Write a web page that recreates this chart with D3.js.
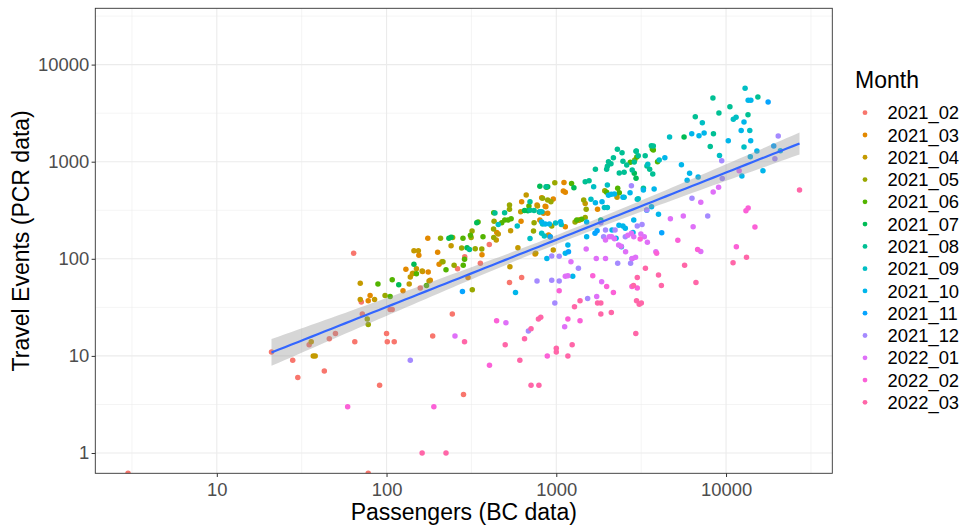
<!DOCTYPE html>
<html><head><meta charset="utf-8">
<script src="https://cdn.jsdelivr.net/npm/d3@7"></script>
<style>
body{margin:0;background:#fff;}
svg{display:block;}
text{font-family:"Liberation Sans",Arial,Helvetica,sans-serif;}
</style>
</head><body>
<svg id="chart" width="962" height="529"></svg>
<script>
// ---- data: [Passengers (BC data), Travel Events (PCR data)] per month ----
const months = ["2021_02","2021_03","2021_04","2021_05","2021_06","2021_07","2021_08","2021_09","2021_10","2021_11","2021_12","2022_01","2022_02","2022_03"];
const monthColors = ["#F8766D","#E38900","#C49A00","#99A800","#53B400","#00BC56","#00C094","#00BFC4","#00B6EB","#06A4FF","#A58AFF","#DF70F8","#FB61D7","#FF66A8"];

const pts_2021_02 = [[3,0],[21,11],[28,9],[30,6],[35,13],[43,7],[46,15],[50,17],[64,114],[65,14],[71,36],[72,27],[78,0],[91,5],[100,17],[101,14],[111,14],[105,30],[108,30],[158,50],[187,16],[244,27],[262,79],[284,4],[289,105],[357,90],[403,140],[530,57],[625,64]];
const pts_2021_03 = [[78,37],[80,42],[125,47],[130,78],[142,70],[155,109],[163,74],[176,73],[175,163],[181,60],[200,117],[204,88],[302,64],[365,110],[446,187],[620,243],[625,387],[750,112],[770,358],[800,251],[820,426],[840,294],[860,348],[868,344],[890,294],[900,176],[960,413],[1100,500],[1110,610],[1130,485],[1130,214],[1370,251],[1750,323]];
const pts_2021_04 = [[36,14],[37,10],[38,10],[70,56],[70,38],[85,38],[136,55],[138,65],[143,71],[145,121],[150,79],[154,121],[162,75],[178,59],[212,93],[240,136],[443,156],[455,180],[533,83],[538,195],[594,130],[617,305],[665,454],[757,114],[775,350],[920,169],[960,123],[1350,250],[1480,372],[2280,430]];
const pts_2021_05 = [[77,24],[78,21],[98,42],[208,163],[215,93],[245,166],[250,86],[277,129],[315,166],[319,193],[320,48],[333,127],[364,126],[427,203],[428,166],[430,243],[530,358],[530,323],[734,193],[740,235],[830,420],[890,403],[930,387],[940,218],[980,608],[1290,240],[1450,403],[1480,267],[1500,323],[1930,502],[2900,1040]];
const pts_2021_06 = [[89,55],[105,41],[108,61],[150,70],[172,53],[224,77],[282,163],[283,86],[288,99],[312,175],[346,239],[370,169],[428,298],[477,235],[497,251],[520,251],[542,259],[690,350],[875,545],[1230,598],[1320,251],[1410,255],[1980,484],[2300,532],[2350,480],[2730,985],[2980,1120],[3680,1350],[3730,1320],[3950,1000]];
const pts_2021_07 = [[118,54],[145,88],[233,163],[240,167],[298,130],[340,235],[650,314],[680,312],[795,303],[800,560],[890,553],[1270,540],[2880,760],[2950,675],[5660,1800]];
const pts_2021_08 = [[308,125],[435,297],[496,298],[700,387],[700,316],[740,314],[870,553],[1480,622],[1560,637],[1700,835],[1830,251],[1980,835],[2000,900],[2030,1000],[2100,950],[2170,1100],[2290,1340],[2350,765],[2440,1240],[2470,1010],[2510,778],[2600,925],[2800,820],[2880,993],[2950,1280],[2960,1290],[3040,1150],[3260,532],[3340,1150],[3420,903],[3550,835],[3630,1460],[3700,747],[3730,1450],[6590,2900],[8070,1430],[8370,4530],[8430,1940],[9080,3170],[10540,3690],[13470,3050],[15400,4640]];
const pts_2021_09 = [[455,226],[589,218],[700,162],[800,305],[820,183],[822,305],[830,228],[850,172],[990,234],[1070,226],[1600,410],[1660,553],[1920,337],[2000,337],[2000,576],[2510,430],[3000,410],[3040,416],[3460,940],[4040,1040],[4650,1800],[7250,2520],[9150,1160],[11040,2730],[11460,2870],[12760,1420],[12950,5700],[13800,2100]];
const pts_2021_10 = [[575,45],[820,240],[860,228],[880,101],[910,228],[1060,241],[1130,114],[1170,139],[1250,66],[1510,239],[1510,169],[1700,378],[1860,387],[2030,451],[2110,461],[2130,198],[2200,465],[2250,163],[2340,221],[2420,133],[2470,218],[2470,430],[2550,206],[2720,480],[2830,187],[2860,251],[3260,511],[3410,316],[3640,344],[3770,524],[4000,287],[4360,1100],[5460,931],[5900,643],[6100,760],[6280,1940],[6850,695],[6930,1850],[7430,1980],[10310,1640],[12280,2100],[12400,712],[12760,2560],[13500,4300],[13900,1127],[13970,1640],[14000,4300],[15200,1290],[16500,808],[20900,1300]];
const pts_2021_11 = [[280,46],[920,169],[1180,118],[1690,183],[1740,195],[4180,185],[17700,4120],[19100,1450]];
const pts_2021_12 = [[138,9],[685,18],[770,59],[940,60],[940,107],[980,35],[1040,59],[1040,106],[1350,80],[1530,39],[1830,235],[1900,169],[1950,198],[2220,198],[2300,90],[2550,169],[2740,90],[2770,566],[2790,100],[3000,218],[3200,226],[3410,318],[6300,420],[7800,276],[9430,1020],[9500,671],[19400,1070],[20300,1840]];
const pts_2022_01 = [[253,16],[505,22],[1120,20],[1130,66],[1170,67],[1220,93],[1500,126],[1720,101],[1730,41],[1850,58],[1950,101],[1950,156],[2050,169],[2120,169],[2200,161],[2330,139],[2410,135],[2560,118],[2640,175],[2770,183],[2800,101],[2860,169],[2930,104],[3150,180],[3300,169],[3440,148],[3860,118],[4700,259],[5600,276],[6400,214],[7100,382],[7100,119],[8400,487],[9040,545],[11950,808]];
const pts_2022_02 = [[59,3],[190,3],[404,8],[445,23],[885,10],[1040,47],[1170,24],[1380,23],[1640,67],[1980,52],[2170,45],[2790,52],[3000,50],[3120,160],[3900,114],[5200,155],[6800,125],[11500,133],[13100,313],[13500,334],[14800,213]];
const pts_2022_03 = [[162,1],[224,1],[288,14],[500,13],[610,9],[650,15],[710,19],[710,5],[790,5],[785,24],[810,25],[1000,12],[1000,11],[1170,10],[1240,13],[1280,32],[1380,37],[1750,35],[1830,27],[1830,35],[2110,28],[2850,53],[2940,17],[2970,37],[3000,64],[3080,34],[3170,35],[3350,80],[4000,68],[4160,53],[5700,86],[6650,57],[11000,91],[13200,104],[27100,511]];

const seriesByMonth = [pts_2021_02,pts_2021_03,pts_2021_04,pts_2021_05,pts_2021_06,pts_2021_07,pts_2021_08,pts_2021_09,pts_2021_10,pts_2021_11,pts_2021_12,pts_2022_01,pts_2022_02,pts_2022_03];

const xTicks = [10,100,1000,10000];
const yTicks = [1,10,100,1000,10000];
const xLimits = [1.924, 42270];
const yLimits = [0.618, 38000];

const xTitle = "Passengers (BC data)";
const yTitle = "Travel Events (PCR data)";
const legendTitle = "Month";

// ---- layout ----
const svg = d3.select("#chart");
const P = {left:95.3, right:832.3, top:8.3, bottom:473.3};
const x = d3.scaleLog().domain(xLimits).range([P.left, P.right]);
const y = d3.scaleLog().domain(yLimits).range([P.bottom, P.top]);
const yPos = v => v > 0 ? y(v) : P.bottom; // zero -> -Inf -> panel edge

svg.append("rect").attr("width",962).attr("height",529).attr("fill","#fff");
svg.append("defs").append("clipPath").attr("id","panelClip")
  .append("rect").attr("x",P.left).attr("y",P.top).attr("width",P.right-P.left).attr("height",P.bottom-P.top);

// grid
const lx0 = Math.log10(xLimits[0]), lx1 = Math.log10(xLimits[1]);
const ly0 = Math.log10(yLimits[0]), ly1 = Math.log10(yLimits[1]);
const xMinor = d3.range(-0.5, 6, 1).filter(v => v > lx0 && v < lx1).map(v => Math.pow(10, v));
const yMinor = d3.range(-0.5, 6, 1).filter(v => v > ly0 && v < ly1).map(v => Math.pow(10, v));
const grid = svg.append("g");
grid.selectAll(".xm").data(xMinor).join("line")
  .attr("x1",d=>x(d)).attr("x2",d=>x(d)).attr("y1",P.top).attr("y2",P.bottom)
  .attr("stroke","#EBEBEB").attr("stroke-width",0.55);
grid.selectAll(".ym").data(yMinor).join("line")
  .attr("y1",d=>y(d)).attr("y2",d=>y(d)).attr("x1",P.left).attr("x2",P.right)
  .attr("stroke","#EBEBEB").attr("stroke-width",0.55);
grid.selectAll(".xM").data(xTicks).join("line")
  .attr("x1",d=>x(d)).attr("x2",d=>x(d)).attr("y1",P.top).attr("y2",P.bottom)
  .attr("stroke","#EBEBEB").attr("stroke-width",1.1);
grid.selectAll(".yM").data(yTicks).join("line")
  .attr("y1",d=>y(d)).attr("y2",d=>y(d)).attr("x1",P.left).attr("x2",P.right)
  .attr("stroke","#EBEBEB").attr("stroke-width",1.1);

// points
const allPts = [];
seriesByMonth.forEach((arr,i) => arr.forEach(p => allPts.push({x:p[0], y:p[1], m:i})));
const plot = svg.append("g").attr("clip-path","url(#panelClip)");
plot.append("g").selectAll("circle").data(allPts).join("circle")
  .attr("cx",d=>x(d.x)).attr("cy",d=>yPos(d.y)).attr("r",2.75)
  .attr("fill",d=>monthColors[d.m]);

// linear fit in log-log space with 95% confidence band
const fitPts = allPts.filter(d => d.x > 0 && d.y > 0).map(d => [Math.log10(d.x), Math.log10(d.y)]);
const n = fitPts.length;
const mx = d3.mean(fitPts, d=>d[0]), my = d3.mean(fitPts, d=>d[1]);
const Sxx = d3.sum(fitPts, d=>(d[0]-mx)**2);
const Sxy = d3.sum(fitPts, d=>(d[0]-mx)*(d[1]-my));
const slope = Sxy/Sxx, icpt = my - slope*mx;
const rss = d3.sum(fitPts, d=>(d[1]-icpt-slope*d[0])**2);
const sig = Math.sqrt(rss/(n-2));
const z = 1.959964, df = n-2;
const tq = z + (z**3 + z)/(4*df);
const fx0 = d3.min(fitPts, d=>d[0]), fx1 = d3.max(fitPts, d=>d[0]);
const band = d3.range(80).map(i => {
  const lxv = fx0 + (fx1-fx0)*i/79;
  const fit = icpt + slope*lxv;
  const se = sig*Math.sqrt(1/n + (lxv-mx)**2/Sxx);
  return {x:Math.pow(10,lxv), fit:Math.pow(10,fit), lo:Math.pow(10,fit-tq*se), hi:Math.pow(10,fit+tq*se)};
});
plot.append("path").datum(band)
  .attr("d", d3.area().x(d=>x(d.x)).y0(d=>y(d.lo)).y1(d=>y(d.hi)))
  .attr("fill","#999999").attr("fill-opacity",0.4);
plot.append("path").datum(band)
  .attr("d", d3.line().x(d=>x(d.x)).y(d=>y(d.fit)))
  .attr("fill","none").attr("stroke","#3366FF").attr("stroke-width",2.2);

// panel border
svg.append("rect").attr("x",P.left).attr("y",P.top).attr("width",P.right-P.left).attr("height",P.bottom-P.top)
  .attr("fill","none").attr("stroke","#333333").attr("stroke-width",0.9);

// axes
const fmt = d3.format("d");
const gx = svg.append("g").attr("transform",`translate(0,${P.bottom})`)
  .call(d3.axisBottom(x).tickValues(xTicks).tickFormat(fmt).tickSize(3.7).tickPadding(5.5));
const gy = svg.append("g").attr("transform",`translate(${P.left},0)`)
  .call(d3.axisLeft(y).tickValues(yTicks).tickFormat(fmt).tickSize(3.7).tickPadding(2.4));
[gx,gy].forEach(g => {
  g.select(".domain").remove();
  g.selectAll(".tick line").attr("stroke","#333333").attr("stroke-width",1);
  g.selectAll(".tick text").attr("fill","#4D4D4D").style("font-size","18.4px")
    .style("font-family",'"Liberation Sans",Arial,Helvetica,sans-serif');
});

// titles
svg.append("text").attr("x",(P.left+P.right)/2).attr("y",519.5).attr("text-anchor","middle")
  .style("font-size","23px").attr("fill","#000").text(xTitle);
svg.append("text").attr("transform",`translate(28.8,${(P.top+P.bottom)/2}) rotate(-90)`)
  .attr("text-anchor","middle").style("font-size","23px").attr("fill","#000").text(yTitle);

// legend
const lg = svg.append("g");
lg.append("text").attr("x",855).attr("y",88).style("font-size","23px").attr("fill","#000").text(legendTitle);
const items = lg.selectAll(".item").data(months).join("g")
  .attr("transform",(d,i)=>`translate(0,${112.7 + i*22.28})`);
items.append("circle").attr("cx",865).attr("cy",0).attr("r",2.4).attr("fill",(d,i)=>monthColors[i]);
items.append("text").attr("x",887.5).attr("y",0).attr("dy","0.36em")
  .style("font-size","18.4px").attr("fill","#000").text(d=>d);
</script>
</body></html>
